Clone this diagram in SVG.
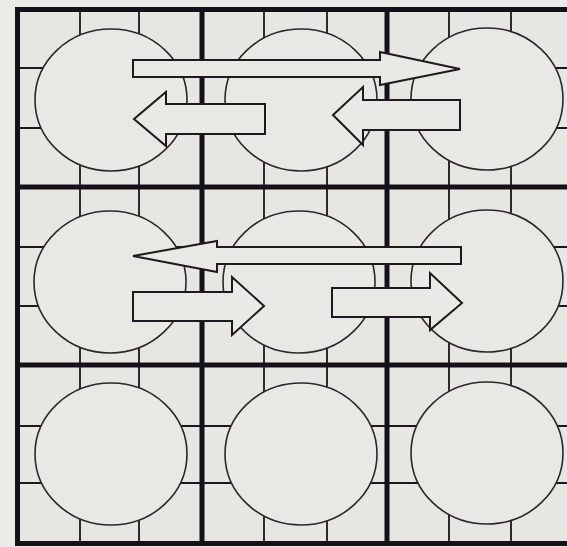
<svg xmlns="http://www.w3.org/2000/svg" width="567" height="547" viewBox="0 0 567 547">
  <style>
    .major { stroke: #141218; stroke-width: 5; fill: none; }
    .minor { stroke: #1a181c; stroke-width: 1.8; fill: none; }
    .node ellipse { fill: #e8e8e5; stroke: #2a2828; stroke-width: 1.6; }
    .arrow { fill: #e9e9e6; stroke: #1c1a1c; stroke-width: 2; stroke-linejoin: miter; }
  </style>
  <rect x="0" y="0" width="567" height="547" fill="#eaeae7"/>
  <rect x="17" y="10" width="560" height="533" fill="#e6e6e2"/>

  <g id="grid">
    <!-- minor lines -->
    <path class="minor" d="M80,10V543 M139,10V543 M264,10V543 M327,10V543 M449,10V543 M511,10V543"/>
    <path class="minor" d="M17,68H567 M17,128H567 M17,247H567 M17,306H567 M17,426H567 M17,483H567"/>
    <!-- major lines -->
    <path class="major" d="M17.5,7.5V545.5 M202,10V543 M387,10V543"/>
    <path class="major" d="M15,9.5H567 M17,187H567 M17,365H567 M15,543.5H567"/>
  </g>

  <g id="circle-r1c1" class="node"><ellipse cx="111" cy="100" rx="76" ry="71"/></g>
  <g id="circle-r1c2" class="node"><ellipse cx="301" cy="100" rx="76" ry="71"/></g>
  <g id="circle-r1c3" class="node"><ellipse cx="487" cy="99" rx="76" ry="71"/></g>
  <g id="circle-r2c1" class="node"><ellipse cx="110" cy="282" rx="76" ry="71"/></g>
  <g id="circle-r2c2" class="node"><ellipse cx="299" cy="282" rx="76" ry="71"/></g>
  <g id="circle-r2c3" class="node"><ellipse cx="487" cy="281" rx="76" ry="71"/></g>
  <g id="circle-r3c1" class="node"><ellipse cx="111" cy="454" rx="76" ry="71"/></g>
  <g id="circle-r3c2" class="node"><ellipse cx="301" cy="454" rx="76" ry="71"/></g>
  <g id="circle-r3c3" class="node"><ellipse cx="487" cy="453" rx="76" ry="71"/></g>

  <g id="connectors">
    <polygon class="arrow" points="133,60 380,60 380,52 460,69 380,85 380,77 133,77"/>
    <polygon class="arrow" points="265,104 166,104 166,92 134,119 166,146 166,134 265,134"/>
    <polygon class="arrow" points="460,100 363,100 363,87 333,115 363,145 363,130 460,130"/>
    <polygon class="arrow" points="461,247 217,247 217,241 133,256 217,272 217,264 461,264"/>
    <polygon class="arrow" points="133,292 232,292 232,277 264,306 232,335 232,321 133,321"/>
    <polygon class="arrow" points="332,288 430,288 430,273 462,303 430,330 430,317 332,317"/>
  </g>
</svg>
